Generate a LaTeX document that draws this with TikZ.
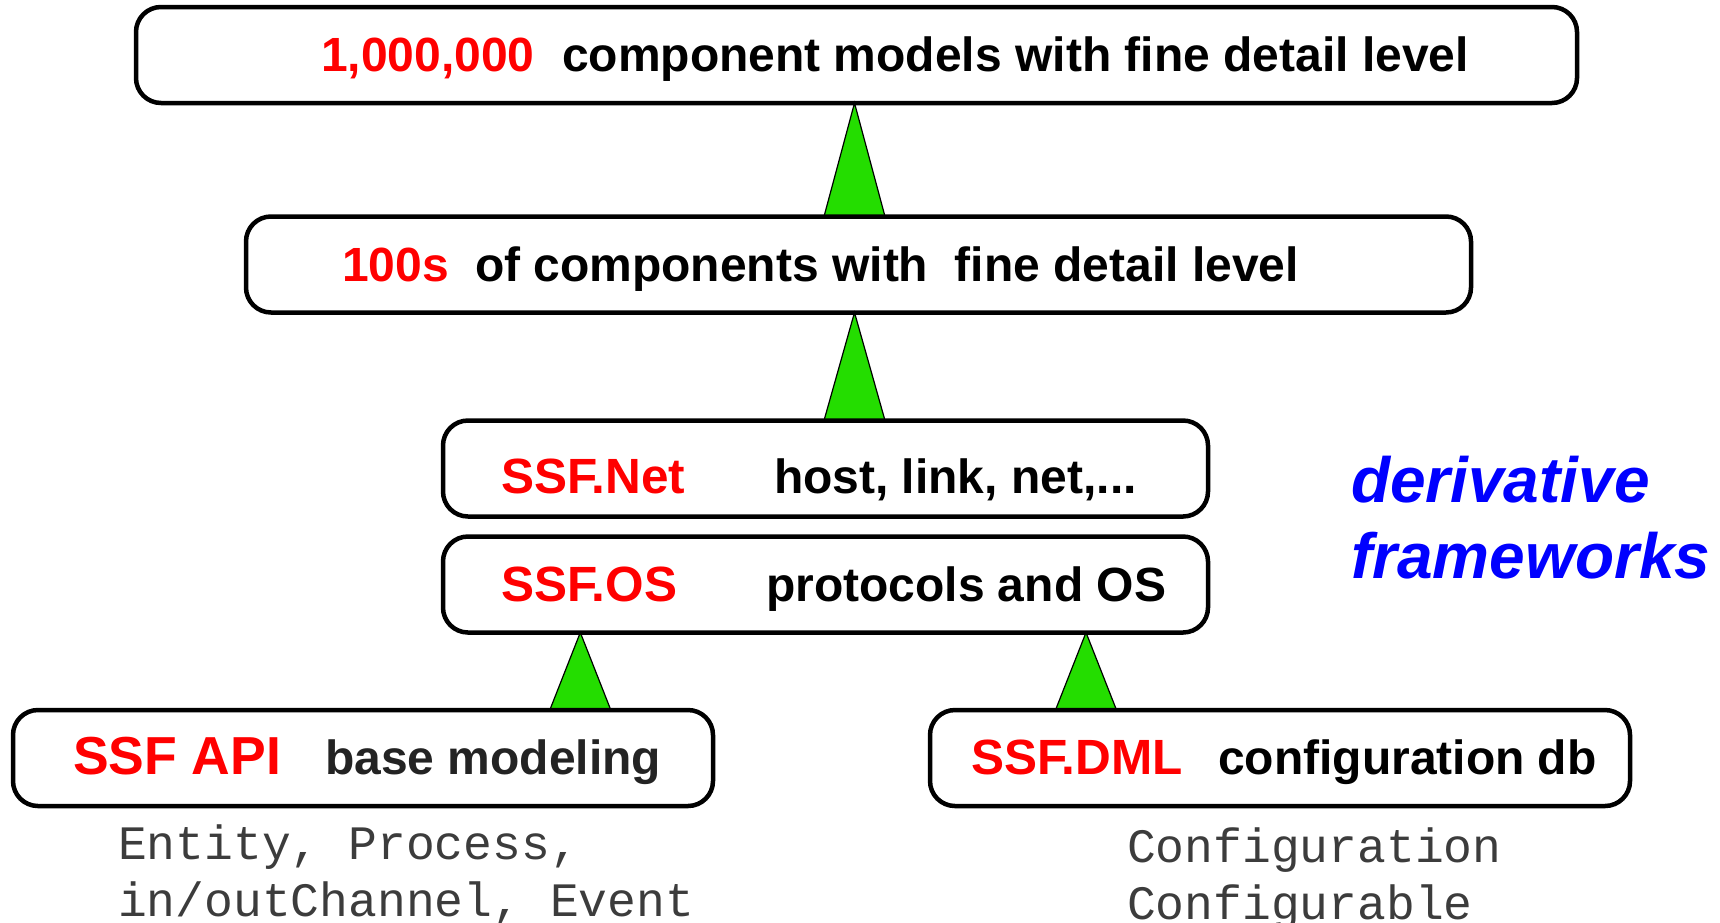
\documentclass[tikz,border=0pt]{standalone}
\usepackage{fontspec}
\setmainfont{Liberation Sans}
\setmonofont{Liberation Mono}
\usetikzlibrary{calc,backgrounds}
\definecolor{ssfred}{RGB}{255,0,0}
\definecolor{ssfblue}{RGB}{0,0,255}
\definecolor{arrowgreen}{RGB}{36,221,0}
\definecolor{codegray}{RGB}{60,60,60}
\definecolor{darktext}{RGB}{35,35,35}

\begin{document}
\begin{tikzpicture}[x=1pt,y=-1pt,
  layerbox/.style={draw=black, line width=4.5pt, rounded corners=25pt,
    inner sep=0pt, outer sep=0pt, minimum height=96pt},
  lbl/.style={anchor=base west, inner sep=0pt, outer sep=0pt,
    font=\fontsize{48}{58}\selectfont\bfseries},
  keyword/.style={lbl, text=ssfred, font=\fontsize{49.5}{58}\selectfont\bfseries},
  codeline/.style={anchor=base west, inner sep=0pt, outer sep=0pt,
    text=codegray, font=\fontsize{48}{58}\selectfont\ttfamily},
  sidenote/.style={anchor=base west, inner sep=0pt, outer sep=0pt,
    text=ssfblue, font=\fontsize{64}{76}\selectfont\bfseries\itshape},
  uparrow/.style={fill=arrowgreen, draw=black, line width=1.2pt, line join=miter}
]
\useasboundingbox (0,0) rectangle (1720,922);

% layer boxes
\node[layerbox, minimum width=1441pt] (models) at (856.5,55) {};
\node[layerbox, minimum width=1225pt] (comps)  at (858.5,264.5) {};
\node[layerbox, minimum width=765pt]  (net)    at (825.5,468.5) {};
\node[layerbox, minimum width=765pt]  (os)     at (825.5,584.5) {};
\node[layerbox, minimum width=700pt]  (api)    at (363,758) {};
\node[layerbox, minimum width=700pt]  (dml)    at (1280,758) {};

% box labels
\node[lbl, text=ssfred] (modelsKey) at (321,71) {1,000,000};
\node[lbl]     (modelsTxt) at (562,71) {component models with fine detail level};
\node[lbl, text=ssfred] (compsKey)  at (342,281) {100s};
\node[lbl]     (compsTxt)  at (475,281) {of components with\hspace{13pt} fine detail level};
\node[keyword] (netKey)    at (501,493) {SSF.Net};
\node[lbl]     (netTxt)    at (774,493) {host, link, net,...};
\node[keyword] (osKey)     at (501,601) {SSF.OS};
\node[lbl]     (osTxt)     at (766,601) {protocols and OS};
\node[keyword, font=\fontsize{53.5}{60}\selectfont\bfseries] (apiKey) at (73,774) {SSF API};
\node[lbl, text=darktext] (apiTxt) at (325,774) {base modeling};
\node[keyword] (dmlKey)    at (971,774) {SSF.DML};
\node[lbl]     (dmlTxt)    at (1218,774) {configuration db};

% class names under the base layers
\node[codeline] (apiCls1) at (118,859) {Entity, Process,};
\node[codeline] (apiCls2) at (118,916) {in/outChannel, Event};
\node[codeline] (dmlCls1) at (1127,862) {Configuration};
\node[codeline] (dmlCls2) at (1127,919) {Configurable};

% side note
\node[sidenote] (deriv) at (1351,502) {derivative};
\node[sidenote] (frame) at (1351,578) {frameworks};

% x positions of the dependency arrows
\coordinate (tA) at (854.5,0);
\coordinate (tB) at (580.3,0);
\coordinate (tC) at (1086,0);

\begin{scope}[on background layer]
  \filldraw[uparrow] (models.south -| tA) -- ($(comps.north -| tA)+(-30.5,0)$)
    -- ($(comps.north -| tA)+(30.5,0)$) -- cycle;
  \filldraw[uparrow] (comps.south -| tA) -- ($(net.north -| tA)+(-30.5,0)$)
    -- ($(net.north -| tA)+(30.5,0)$) -- cycle;
  \filldraw[uparrow] (os.south -| tB) -- ($(api.north -| tB)+(-30.5,0)$)
    -- ($(api.north -| tB)+(30.5,0)$) -- cycle;
  \filldraw[uparrow] (os.south -| tC) -- ($(dml.north -| tC)+(-30.5,0)$)
    -- ($(dml.north -| tC)+(30.5,0)$) -- cycle;
\end{scope}
\end{tikzpicture}
\end{document}
